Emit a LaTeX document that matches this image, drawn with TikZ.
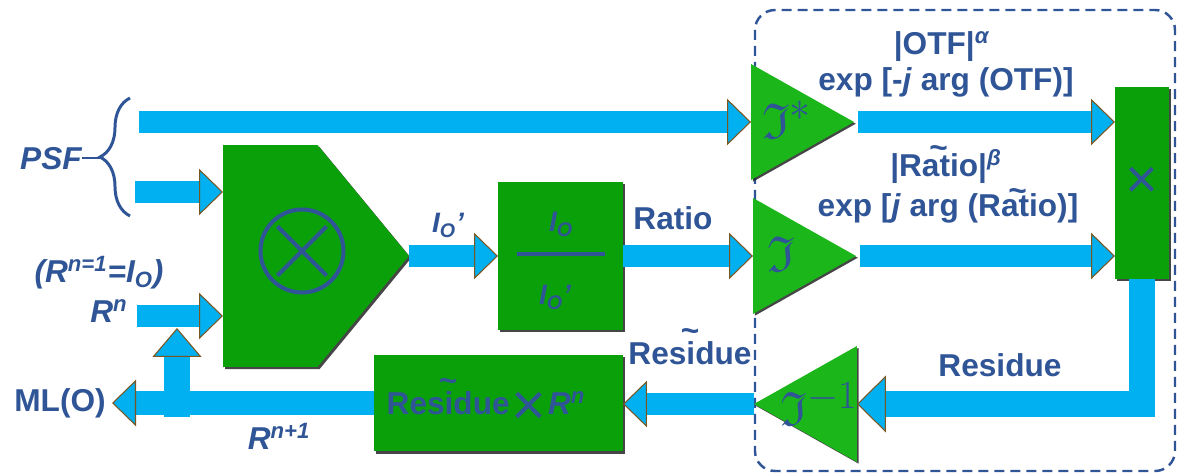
\documentclass[tikz,border=0pt]{standalone}
\usepackage{amssymb}
\usepackage{fontspec}
\setmainfont{Liberation Sans}
\usepackage{xcolor}
\usetikzlibrary{positioning, arrows.meta, calc, shapes.geometric, shapes.symbols,
  shadows, decorations.pathreplacing}

\definecolor{flowblue}{RGB}{0,176,240}
\definecolor{tipbrown}{RGB}{125,85,30}
\definecolor{boxgreen}{RGB}{10,160,10}
\definecolor{trigreen}{RGB}{26,182,26}
\definecolor{inkblue}{RGB}{47,85,151}

% word with a tilde set above its middle
\newcommand\wavy[2][0.7em]{\setbox0=\hbox{#2}\leavevmode
  \rlap{\smash{\hbox to\wd0{\hss\raisebox{#1}{\textasciitilde}\hss}}}\box0}

\begin{document}
\begin{tikzpicture}[
  x=0.02cm, y=-0.02cm,
  font=\fontsize{18}{21}\selectfont\bfseries,
  lbl/.style={text=inkblue, inner sep=0pt, anchor=base},
  ital/.style={lbl, font=\fontsize{18}{21}\selectfont\bfseries\itshape},
  smallital/.style={lbl, font=\fontsize{16}{19}\selectfont\bfseries\itshape},
  blk/.style={fill=boxgreen, inner sep=0pt, outer sep=0pt,
    drop shadow={shadow xshift=1.2pt, shadow yshift=-1.2pt, fill=black!85, opacity=0.85}},
  tri/.style={isosceles triangle, isosceles triangle stretches, fill=trigreen,
    inner sep=0pt, outer sep=0pt, minimum width=2.32cm, minimum height=2.06cm,
    drop shadow={shadow xshift=1pt, shadow yshift=-1pt, fill=black!85, opacity=0.85}},
  frak/.style={text=inkblue, inner sep=0pt, font=\fontsize{24.88}{26}\selectfont},
  bigx/.style={text=inkblue, inner sep=0pt, font=\fontsize{32}{32}\selectfont\mdseries},
  flow/.style={line width=0.44cm, flowblue,
    -{Triangle[length=0.48cm, width=0.93cm, color=tipbrown, fill=flowblue, line width=0.6pt]}},
  wide/.style={line width=0.53cm, flowblue,
    -{Triangle[length=0.58cm, width=1.14cm, color=tipbrown, fill=flowblue, line width=0.6pt]}},
  curly/.style={inkblue, line width=1.7pt, decorate, decoration={brace, amplitude=0.6cm}},
  group/.style={inkblue, line width=1.4pt, dash pattern=on 0.2cm off 0.12cm, rounded corners=0.4cm},
]
  \useasboundingbox (0,0) rectangle (1178,476);

  % Dashed frame round the Fourier part
  \draw[group] (755,10) rectangle (1175,471);

  % Inputs on the left
  \coordinate (psftop) at (139,122);
  \coordinate (psfmid) at (135,192);
  \coordinate (rnin) at (137,316);
  \coordinate (bracetop) at (130,98);
  \coordinate (bracebot) at (130,216);
  \coordinate (bracetip) at (100,158);
  \coordinate (loopfoot) at (177,417);
  \coordinate (loopup) at (177,328);

  \node[ital] (psf) at (51,170) {PSF};
  \node[ital] (rnone) at (99,283) {(R\textsuperscript{n=1}=I\textsubscript{O})};
  \node[ital] (rnlbl) at (109,323) {R\textsuperscript{n}};
  \node[lbl] (mlo) at (60,412) {ML(O)};
  \draw[curly] (bracebot) -- (bracetop);
  \draw[inkblue, line width=1.7pt] (psf.east |- bracetip) -- (bracetip);

  % Blocks
  \node[blk, signal, signal to=east, signal pointer angle=101, anchor=west,
    minimum width=3.72cm, minimum height=4.44cm] (prodblock) at (223,256) {};
  \node[circle, draw=inkblue, line width=2.3pt, minimum size=1.66cm, inner sep=0pt]
    (otimes) at (302,251) {};
  \draw[inkblue, line width=2.3pt]
    ($(otimes.center)!0.8!(otimes.north west)$) -- ($(otimes.center)!0.8!(otimes.south east)$)
    ($(otimes.center)!0.8!(otimes.north east)$) -- ($(otimes.center)!0.8!(otimes.south west)$);

  \node[blk, minimum width=2.5cm, minimum height=2.96cm] (ratiobox) at (560.5,256) {};
  \node[smallital] (iotop) at (561,232) {I\textsubscript{O}};
  \node[smallital] (iobot) at (555,305) {I\textsubscript{O}’};
  \draw[inkblue, line width=2.8pt]
    ($(ratiobox.center)+(-44,-2)$) -- ($(ratiobox.center)+(44,-2)$);

  \node[blk, minimum width=1.08cm, minimum height=3.84cm] (multbox) at (1142,183) {};
  \node[bigx] (multsym) at (multbox.center) {×};

  \node[blk, minimum width=4.98cm, minimum height=1.94cm] (resbox) at (498.5,403) {};
  \node[lbl] (resprod) at (486,415)
    {\wavy[0.74em]{Residue}\hspace{1pt}\raisebox{-6pt}{\fontsize{34}{34}\selectfont\mdseries ×}\hspace{1pt}\textit{R\textsuperscript{n}}};

  % Fourier triangles
  \node[tri, anchor=apex] (ftstar) at (854,122) {};
  \node[tri, anchor=apex] (ftrat) at (856,256) {};
  \node[tri, anchor=apex, shape border rotate=180] (finv) at (754,404) {};
  \node[frak] (ftstarsym) at (787,120) {\scalebox{1.15}{$\mathfrak{I}^{*}$}};
  \node[frak] (ftratsym) at (781,254) {\scalebox{1.15}{$\mathfrak{I}$}};
  \node[frak] (finvsym) at (819,404) {\scalebox{1.1}{$\mathfrak{I}^{-1}$}};

  % Flow arrows
  \draw[flow] (psftop) -- (psftop -| ftstar.west);
  \draw[flow] (psfmid) -- (psfmid -| prodblock.west);
  \draw[flow] (rnin) -- (rnin -| prodblock.west);
  \draw[flow] (prodblock.east) -- (prodblock.east -| ratiobox.west);
  \draw[flow] (ratiobox.east) -- (ratiobox.east -| ftrat.west);
  \draw[flow, shorten <=0.08cm] (ftstar.east) -- (ftstar.east -| multbox.west);
  \draw[flow, shorten <=0.08cm] (ftrat.east) -- (ftrat.east -| multbox.west);
  \draw[wide] (multbox.south) |- (finv.east);
  \draw[flow] (finv.west) -- (finv.west -| resbox.east);
  \draw[flow, line width=0.5cm] (resbox.west) -- ([xshift=0.12cm]resbox.west -| mlo.east);
  \draw[wide, line width=0.54cm,
    -{Triangle[length=0.58cm, width=0.98cm, color=tipbrown, fill=flowblue, line width=0.6pt]}]
    (loopfoot) -- (loopup);

  % Arrow labels
  \node[smallital] (ioprime) at (448,233) {I\textsubscript{O}’};
  \node[lbl] (ratiolbl) at (673,230) {Ratio};
  \node[lbl] (otfabs) at (942,55) {|OTF|\textsuperscript{\textit{α}}};
  \node[lbl] (otfexp) at (946,91) {exp [-\textit{j} arg (OTF)]};
  \node[lbl] (ratabs) at (946,177) {|\wavy[0.57em]{Ratio}|\textsuperscript{\textit{β}}};
  \node[lbl] (ratexp) at (948,217) {exp [\textit{j} arg (\wavy[0.5em]{Ratio})]};
  \node[lbl] (reslbl) at (1000,377) {Residue};
  \node[lbl] (restl) at (690,365) {\wavy[0.74em]{Residue}};
  \node[ital] (rnext) at (279,450) {R\textsuperscript{n+1}};
\end{tikzpicture}
\end{document}
